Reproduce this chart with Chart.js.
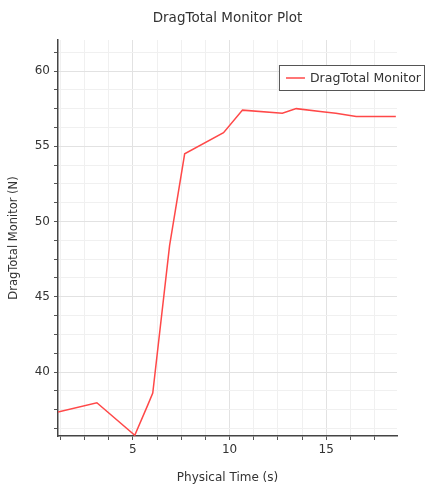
<!DOCTYPE html>
<html>
<head>
<meta charset="utf-8">
<script src="https://cdn.jsdelivr.net/npm/chart.js@4/dist/chart.umd.min.js"></script>
<style>
  html, body { margin: 0; padding: 0; background: #fff; }
  #wrap { width: 427px; height: 486px; }
</style>
</head>
<body>
<div id="wrap"><canvas id="chart" width="427" height="486"></canvas></div>
<script>
// values
var physicalTime = [1.13, 3.14, 5.1, 5.77, 6.03, 6.9, 7.68, 9.69, 10.67, 12.73, 13.45, 14.8, 15.5, 16.55, 18.6]
var dragTotal = [37.34, 37.96, 35.8, 37.8, 38.6, 48.4, 54.5, 55.9, 57.4, 57.2, 57.5, 57.3, 57.2, 56.97, 56.97]
var seriesName = 'DragTotal Monitor'
var plotTitle = 'DragTotal Monitor Plot'
var xTicks = [1.25, 2.5, 3.75, 5, 6.25, 7.5, 8.75, 10, 11.25, 12.5, 13.75, 15, 16.25, 17.5]
var yTicks = [36.25, 37.5, 38.75, 40, 41.25, 42.5, 43.75, 45, 46.25, 47.5, 48.75, 50, 51.25, 52.5, 53.75, 55, 56.25, 57.5, 58.75, 60, 61.25]
var xRange = [1.13, 18.66]
var yRange = [35.75, 62.06]

var font = 'DejaVu Sans'

function isMajor(v) {
  return Math.abs(v / 5 - Math.round(v / 5)) < 1e-6
}

// title centred over the plot area, legend box at top right
var decorations = {
  id: 'decorations',
  afterDraw: function(chart) {
    var ctx = chart.ctx
    var area = chart.chartArea
    var ds = chart.data.datasets[0]
    ctx.save()

    ctx.font = '13.5px "' + font + '"'
    ctx.fillStyle = '#333'
    ctx.textAlign = 'center'
    ctx.textBaseline = 'middle'
    ctx.fillText(plotTitle, (area.left + area.right) / 2, 18)

    ctx.font = '12.5px "' + font + '"'
    ctx.textAlign = 'left'
    var right = area.right + 27
    var top = area.top + 25
    var w = ctx.measureText(ds.label).width + 34
    var h = 25
    var left = right - w
    ctx.fillStyle = '#fff'
    ctx.fillRect(left, top, w, h)
    ctx.strokeStyle = '#555'
    ctx.lineWidth = 1
    ctx.strokeRect(left + 0.5, top + 0.5, w, h)
    ctx.strokeStyle = ds.borderColor
    ctx.lineWidth = 1.5
    ctx.beginPath()
    ctx.moveTo(left + 7, top + h / 2 + 0.5)
    ctx.lineTo(left + 26, top + h / 2 + 0.5)
    ctx.stroke()
    ctx.fillStyle = '#333'
    ctx.fillText(ds.label, left + 31, top + h / 2 + 1)
    ctx.restore()
  },
}

var points = physicalTime.map(function(t, i) {
  return { x: t, y: dragTotal[i] }
})

var chart = new Chart(document.getElementById('chart').getContext('2d'), {
  type: 'line',
  data: {
    datasets: [{
      label: seriesName,
      data: points,
      borderColor: 'rgb(255, 72, 72)',
      borderWidth: 1.5,
      pointRadius: 0,
      tension: 0,
      fill: false,
    }],
  },
  options: {
    responsive: false,
    animation: false,
    layout: { padding: { left: 0, right: 30, top: 40, bottom: 0 } },
    plugins: {
      legend: { display: false },
      tooltip: { enabled: false },
    },
    scales: {
      x: {
        type: 'linear',
        min: xRange[0],
        max: xRange[1],
        afterBuildTicks: function(scale) {
          scale.ticks = xTicks.map(function(v) { return { value: v } })
        },
        afterFit: function(scale) { scale.height = 50 },
        ticks: {
          autoSkip: false,
          maxRotation: 0,
          padding: 3,
          color: '#333',
          font: { family: font, size: 12 },
          callback: function(v) { return isMajor(v) ? String(v) : '' },
        },
        grid: {
          color: function(c) { return c.tick && isMajor(c.tick.value) ? '#e2e2e2' : '#f0f0f0' },
          tickColor: '#555',
          tickLength: 4,
        },
        border: { display: true, color: '#444', width: 1.5 },
        title: {
          display: true,
          text: 'Physical Time (s)',
          color: '#333',
          font: { family: font, size: 12 },
          padding: { top: 0, bottom: 1 },
        },
      },
      y: {
        type: 'linear',
        min: yRange[0],
        max: yRange[1],
        afterBuildTicks: function(scale) {
          scale.ticks = yTicks.map(function(v) { return { value: v } })
        },
        afterFit: function(scale) { scale.width = 58 },
        ticks: {
          autoSkip: false,
          padding: 4,
          color: '#333',
          font: { family: font, size: 12 },
          callback: function(v) { return isMajor(v) ? String(v) : '' },
        },
        grid: {
          color: function(c) { return c.tick && isMajor(c.tick.value) ? '#e2e2e2' : '#f0f0f0' },
          tickColor: '#555',
          tickLength: 4,
        },
        border: { display: true, color: '#444', width: 1.5 },
        title: {
          display: true,
          text: 'DragTotal Monitor (N)',
          color: '#333',
          font: { family: font, size: 11.5 },
          padding: { top: 7, bottom: 0 },
        },
      },
    },
  },
  plugins: [decorations],
})
</script>
</body>
</html>
